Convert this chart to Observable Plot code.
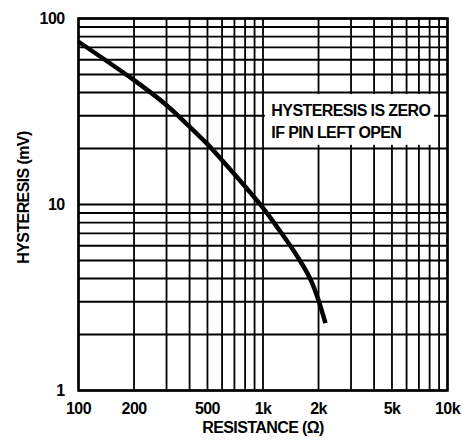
<!DOCTYPE html>
<html>
<head>
<meta charset="utf-8">
<script src="https://cdn.jsdelivr.net/npm/d3@7"></script>
<script src="https://cdn.jsdelivr.net/npm/@observablehq/plot@0.6"></script>
<style>
  html, body { margin: 0; padding: 0; background: #fff; }
  #chart { width: 462px; height: 443px; }
  #chart svg, #chart svg text {
    font-family: "Liberation Sans Narrow", "Liberation Sans", Arial, sans-serif !important;
    font-stretch: condensed;
    letter-spacing: -0.6px;
  }
</style>
</head>
<body>
<div id="chart"></div>
<script>
// Curve data: resistance (Ω) vs hysteresis (mV)
const resistance = [100, 200, 300, 400, 500, 600, 800, 1000, 1200, 1500, 1800, 2000, 2180];
const hysteresis = [75, 46.6, 34.2, 26.2, 21.1, 17.3, 12.5, 9.6, 7.5, 5.45, 4.0, 3.05, 2.3];

// Grid lines
const xGrid = [100, 200, 300, 400, 500, 600, 700, 800, 900, 1000,
               2000, 3000, 4000, 5000, 6000, 7000, 8000, 9000, 10000];
const yGrid = [1, 2, 3, 4, 5, 6, 7, 8, 9, 10, 20, 30, 40, 50, 60, 70, 80, 90, 100];

// Tick labels
const xTicks = [100, 200, 500, 1000, 2000, 5000, 10000];
const xTickLabels = ["100", "200", "500", "1k", "2k", "5k", "10k"];
const yTicks = [1, 10, 100];
const yTickLabels = ["1", "10", "100"];

// Annotation
const noteLines = ["HYSTERESIS IS ZERO", "IF PIN LEFT OPEN"];
const noteX = [1110, 1110];
const noteY = [31.8, 24.3];
const noteBox = [{x1: 1030, x2: 8500, y1: 20.8, y2: 39}];

const xTitle = "RESISTANCE (Ω)";
const yTitle = "HYSTERESIS (mV)";

const curve = resistance.map((r, i) => ({r, h: hysteresis[i]}));
const notes = noteLines.map((t, i) => ({t, x: noteX[i], y: noteY[i]}));
const xLabels = xTicks.map((v, i) => ({v, t: xTickLabels[i]}));
const yLabels = yTicks.map((v, i) => ({v, t: yTickLabels[i]}));

const chart = Plot.plot({
  width: 462,
  height: 443,
  marginLeft: 78,
  marginRight: 15,
  marginTop: 18,
  marginBottom: 53,
  style: {fontSize: "16px", fontWeight: "bold", color: "#000", background: "#fff"},
  x: {type: "log", domain: [100, 10000], axis: null},
  y: {type: "log", domain: [1, 100], axis: null},
  marks: [
    Plot.ruleX(xGrid, {stroke: "#000", strokeWidth: 1.8, strokeOpacity: 1}),
    Plot.ruleY(yGrid, {stroke: "#000", strokeWidth: 1.8, strokeOpacity: 1}),
    Plot.rect(noteBox, {x1: "x1", x2: "x2", y1: "y1", y2: "y2", fill: "#fff"}),
    Plot.text(notes, {x: "x", y: "y", text: "t", textAnchor: "start", fontSize: 16, fontWeight: "bold", fill: "#000"}),
    Plot.frame({stroke: "#000", strokeWidth: 2.5}),
    Plot.line(curve, {x: "r", y: "h", stroke: "#000", strokeWidth: 4.5, curve: "catmull-rom", strokeLinecap: "butt"}),
    // x tick labels
    Plot.text(xLabels, {x: "v", text: "t", frameAnchor: "bottom", lineAnchor: "top", dy: 12, fontSize: 16, fontWeight: "bold", fill: "#000"}),
    // y tick labels
    Plot.text(yLabels, {y: "v", text: "t", frameAnchor: "left", textAnchor: "end", dx: -14, fontSize: 16, fontWeight: "bold", fill: "#000"}),
    // axis titles
    Plot.text([xTitle], {frameAnchor: "bottom", lineAnchor: "top", dy: 31, fontSize: 16, fontWeight: "bold", fill: "#000"}),
    Plot.text([yTitle], {frameAnchor: "left", textAnchor: "middle", rotate: -90, dx: -55, dy: -7, fontSize: 16, fontWeight: "bold", fill: "#000"})
  ]
});

document.getElementById("chart").appendChild(chart);
</script>
</body>
</html>
